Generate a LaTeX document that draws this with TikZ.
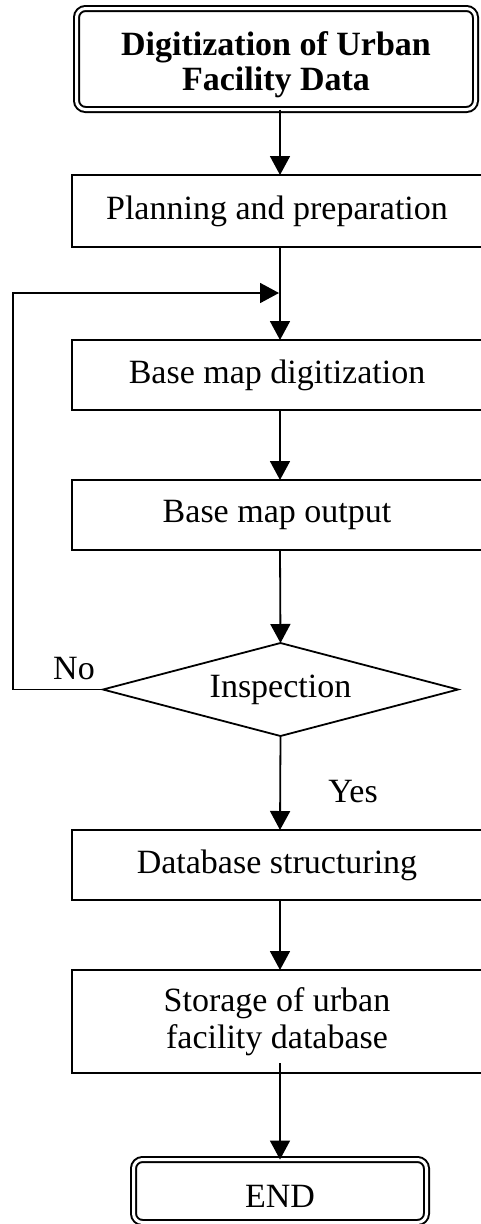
\documentclass[tikz,border=0pt]{standalone}
\usepackage{fontspec}
\setmainfont{Liberation Serif}
\usetikzlibrary{arrows.meta,shapes.geometric}

\begin{document}
\begin{tikzpicture}[x=1pt,y=-1pt,
  font=\fontsize{34}{37}\selectfont,
  terminal/.style={draw, double, double distance=3pt, line width=2pt,
    rounded corners=9pt, inner sep=0pt, outer sep=0pt, align=center},
  stepbox/.style={draw, line width=1.8pt, inner sep=0pt, outer sep=0pt,
    minimum width=410pt, align=center},
  decision/.style={draw, diamond, line width=1.8pt, aspect=3.8, inner sep=0pt,
    outer sep=0pt, minimum width=355pt, minimum height=93pt},
  arr/.style={line width=1.8pt, -{Triangle[width=20pt,length=19pt]}}]

% page area
\fill[white] (0,0) rectangle (480,1224);
\useasboundingbox (0,0) rectangle (480,1224);

% flow axis and loop-back points
\coordinate (axis) at (280,0);
\coordinate (join) at (279,293);
\coordinate (loopbot) at (13,689.5);
\coordinate (looptop) at (13,293);

% nodes
\node[terminal, minimum width=399pt, minimum height=101pt] (start) at (276,59)
  {\raisebox{-7pt}[\height][\depth]{\fontsize{34}{35}\selectfont
   \begin{tabular}{@{}c@{}}
   \bfseries Digitization of Urban\\\bfseries Facility Data\end{tabular}}};
\node[stepbox, minimum height=72pt] (plan) at (277,211) {Planning and preparation};
\node[stepbox, minimum height=70pt] (bmd) at (277,375) {Base map digitization};
\node[stepbox, minimum height=70pt] (bmo) at (277,515) {Base map output};
\node[decision] (insp) at (280.5,689.5) {Inspection};
\node[stepbox, minimum height=70pt] (db) at (277,865) {Database structuring};
\node[stepbox, minimum height=103pt] (store) at (277,1021.5)
  {Storage of urban\\facility database};
\node[terminal, minimum width=293pt, minimum height=63pt] (end) at (280,1191)
  {\raisebox{-5pt}[\height][\depth]{END}};

% branch labels
\node (no) at (74,669) {No};
\node (yes) at (353,792) {Yes};

% connectors
\draw[arr] (start.south -| axis) -- (plan.north -| axis);
\draw[arr] (plan.south -| axis) -- (bmd.north -| axis);
\draw[arr] (insp.west) -- (loopbot) -- (looptop) -- (join);
\draw[arr] (bmd.south -| axis) -- (bmo.north -| axis);
\draw[arr] (bmo.south -| axis) -- (insp.north);
\draw[arr] (insp.south) -- (db.north -| axis);
\draw[arr] (db.south -| axis) -- (store.north -| axis);
\draw[arr] ([yshift=10pt]store.south -| axis) -- (end.north);
\end{tikzpicture}
\end{document}
